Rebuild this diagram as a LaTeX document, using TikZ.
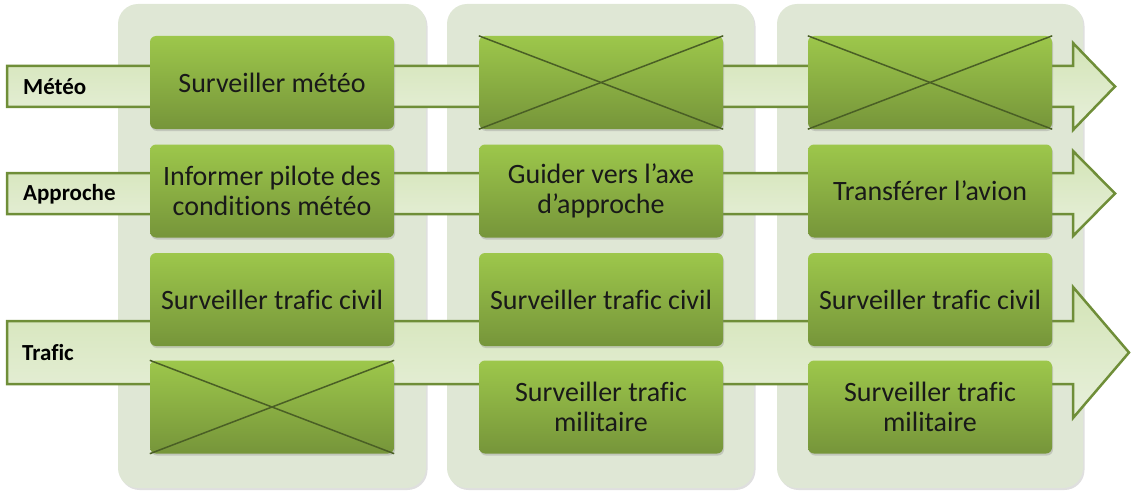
\documentclass[tikz,border=0pt]{standalone}
\usepackage{fontspec}
\setmainfont{Carlito}[Ligatures=NoCommon]
\usetikzlibrary{shadows}
\definecolor{panelfill}{HTML}{DFE7D5}
\definecolor{boxtop}{HTML}{9DC74B}
\definecolor{boxbot}{HTML}{76953A}
\definecolor{bandtop}{HTML}{D3E4B6}
\definecolor{bandbot}{HTML}{E8F0DC}
\definecolor{bandline}{HTML}{6F8E38}
\definecolor{crossline}{HTML}{4A5F25}
\tikzset{
  panel/.style={fill=panelfill, rounded corners=20pt, draw=none,
    drop shadow={opacity=0.25, shadow xshift=1.5pt, shadow yshift=-2pt}},
  task/.style={rectangle, rounded corners=6pt, minimum width=244pt, minimum height=93pt,
    top color=boxtop, bottom color=boxbot, draw=none, inner sep=0pt,
    font=\fontsize{28}{30}\selectfont, align=center, text=black!90,
    drop shadow={opacity=0.3, shadow xshift=1pt, shadow yshift=-2pt}},
  band/.style={draw=bandline, line width=2.5pt, top color=bandtop, bottom color=bandbot, line join=miter},
  lbl/.style={font=\fontsize{23}{26}\selectfont\bfseries, anchor=west, inner sep=0pt},
  xline/.style={draw=crossline, line width=1.5pt},
}
\begin{document}
\begin{tikzpicture}[x=1pt,y=-1pt]
\useasboundingbox (0,0) rectangle (1131,492);
% panels
\fill[panel] (118,4) rectangle (426,488);
\fill[panel] (447,4) rectangle (754,488);
\fill[panel] (777,4) rectangle (1083,488);
% bands
\draw[band] (7,66) -- (1073,66) -- (1073,43) -- (1115,86.5) -- (1073,130) -- (1073,107) -- (7,107) -- cycle;
\draw[band] (7,173) -- (1073,173) -- (1073,151) -- (1115,193.5) -- (1073,236) -- (1073,214) -- (7,214) -- cycle;
\draw[band] (7,321) -- (1073,321) -- (1073,287) -- (1129,352.5) -- (1073,418) -- (1073,384) -- (7,384) -- cycle;
\node[lbl] (lmeteo) at (23,87) {Météo};
\node[lbl] (lapproche) at (23,194) {Approche};
\node[lbl] (ltrafic) at (22,353) {Trafic};
% tasks
\node[task] (a1) at (272,82.5) {Surveiller météo};
\node[task] (a2) at (601,82.5) {};
\node[task] (a3) at (930,82.5) {};
\node[task] (b1) at (272,191) {Informer pilote des\\conditions météo};
\node[task] (b2) at (601,191) {Guider vers l’axe\\d’approche};
\node[task] (b3) at (930,191) {Transférer l’avion};
\node[task] (c1) at (272,299.5) {Surveiller trafic civil};
\node[task] (c2) at (601,299.5) {Surveiller trafic civil};
\node[task] (c3) at (930,299.5) {Surveiller trafic civil};
\node[task] (d1) at (272,407) {};
\node[task] (d2) at (601,407) {Surveiller trafic\\militaire};
\node[task] (d3) at (930,407) {Surveiller trafic\\militaire};
% crosses
\foreach \n in {a2,a3,d1}{
  \draw[xline] (\n.north west) -- (\n.south east);
  \draw[xline] (\n.south west) -- (\n.north east);
}
\end{tikzpicture}
\end{document}
